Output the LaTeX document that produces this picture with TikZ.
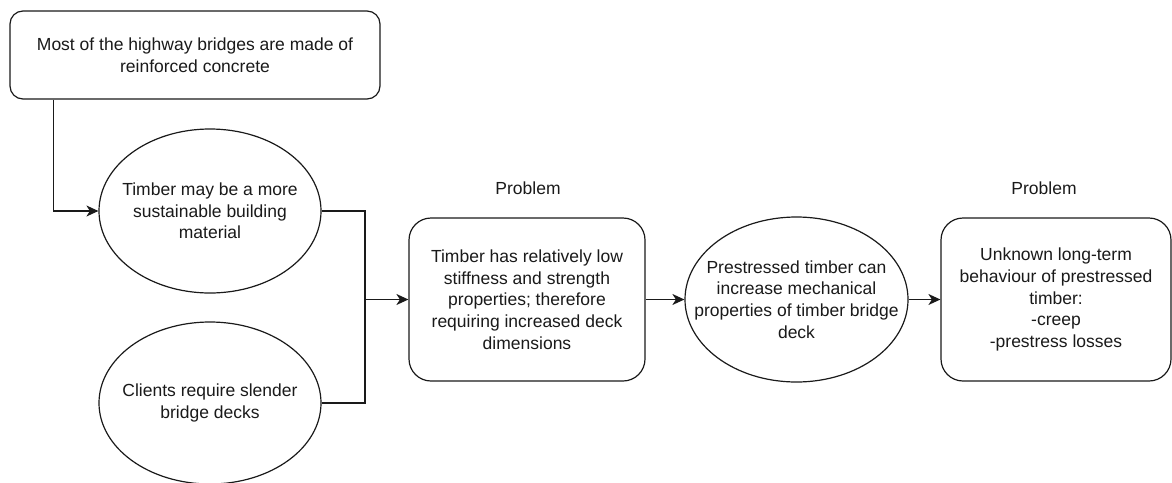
\documentclass[tikz,border=0pt]{standalone}
\usepackage{fontspec}
\setmainfont{Liberation Sans}
\usepackage{xcolor}
\usetikzlibrary{arrows.meta,shapes.geometric}
\definecolor{ink}{HTML}{1A1A1A}
\tikzset{
  flowbox/.style={draw=ink,line width=1.2pt,rounded corners=22pt,fill=white,align=center,
    inner sep=0pt,minimum width=236pt,minimum height=163pt,font=\fontsize{17.5}{21.7}\selectfont,text=ink},
  flowoval/.style={draw=ink,line width=1.2pt,ellipse,fill=white,align=center,
    inner xsep=-30pt,inner ysep=0pt,minimum width=222pt,minimum height=164pt,font=\fontsize{17.5}{21.7}\selectfont,text=ink},
  flowlabel/.style={font=\fontsize{17.5}{21.7}\selectfont,text=ink},
  flowline/.style={line width=1.2pt,draw=ink},
  flowarrow/.style={-{Stealth[length=12pt,width=11pt,inset=3.5pt]},line width=1.2pt,draw=ink}
}
\begin{document}
\begin{tikzpicture}[x=1pt,y=-1pt]
\useasboundingbox (0,0) rectangle (1172,482);
\node[flowbox,rounded corners=13pt,minimum width=370pt,minimum height=88pt] (highway) at (195,55) {Most of the highway bridges are made of\\reinforced concrete};
\node[flowoval] (sustain) at (210,211) {Timber may be a more\\sustainable building\\material};
\node[flowoval,minimum height=162pt] (clients) at (210,403) {Clients require slender\\bridge decks};
\node[flowbox] (stiffness) at (527,299.5) {Timber has relatively low\\stiffness and strength\\properties; therefore\\requiring increased deck\\dimensions};
\node[flowoval,minimum width=223pt,minimum height=165pt] (prestress) at (796.5,299.5) {Prestressed timber can\\increase mechanical\\properties of timber bridge\\deck};
\node[flowbox,minimum width=230pt] (longterm) at (1056,299.5) {Unknown long-term\\behaviour of prestressed\\timber:\\-creep\\-prestress losses};
\node[flowlabel] (problemone) at (528,188) {Problem};
\node[flowlabel] (problemtwo) at (1044,188) {Problem};
\coordinate (merge) at (365,299.5);
\draw[flowarrow] ([xshift=44pt]highway.south west) |- (sustain.west);
\draw[flowline] (sustain.east) -| (merge);
\draw[flowline] (clients.east) -| (merge);
\draw[flowarrow] (merge) -- (stiffness.west);
\draw[flowarrow] (stiffness.east) -- (prestress.west);
\draw[flowarrow] (prestress.east) -- (longterm.west);
\end{tikzpicture}
\end{document}
